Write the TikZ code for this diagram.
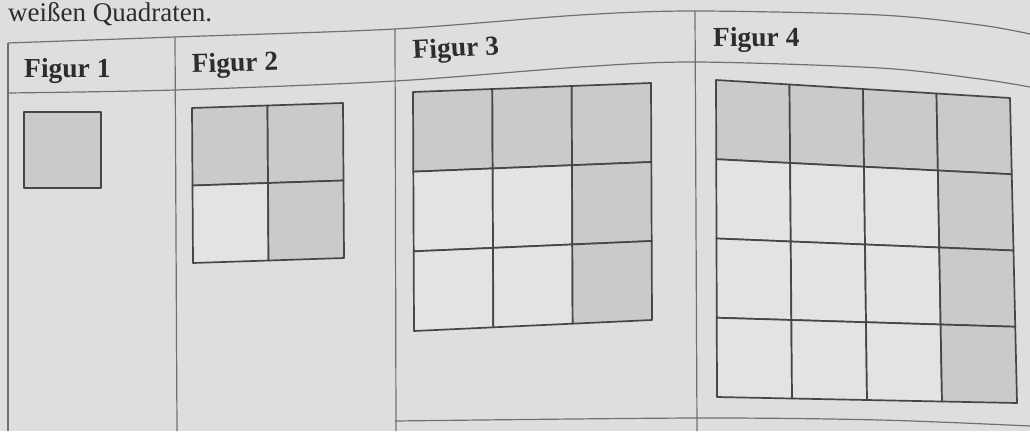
\documentclass[tikz,border=0pt]{standalone}
\usepackage{fontspec}
\setmainfont{Liberation Serif}
\usetikzlibrary{calc}

\definecolor{paper}{RGB}{222,222,222}
\definecolor{cellwhite}{RGB}{227,227,227}
\definecolor{cellgrey}{RGB}{202,202,202}
\definecolor{gridline}{RGB}{70,70,70}
\definecolor{tableline}{RGB}{112,112,112}
\definecolor{printtext}{RGB}{45,45,45}

% squares of one figure between the corners #1tl, #1tr, #1bl, #1br
% #2 squares per side, top row and right column grey
\newcommand{\quadgrid}[2]{%
  \foreach \i in {1,...,#2}{
    \foreach \j in {1,...,#2}{
      \pgfmathsetmacro{\ua}{(\i-1)/#2}
      \pgfmathsetmacro{\ub}{\i/#2}
      \pgfmathsetmacro{\va}{(\j-1)/#2}
      \pgfmathsetmacro{\vb}{\j/#2}
      \pgfmathtruncatemacro{\isgrey}{or(\j==1,\i==#2)}
      \ifnum\isgrey=1 \def\cellcol{cellgrey}\else\def\cellcol{cellwhite}\fi
      \filldraw[cellbox, fill=\cellcol]
        ($($(#1tl)!\ua!(#1tr)$)!\va!($(#1bl)!\ua!(#1br)$)$) --
        ($($(#1tl)!\ub!(#1tr)$)!\va!($(#1bl)!\ub!(#1br)$)$) --
        ($($(#1tl)!\ub!(#1tr)$)!\vb!($(#1bl)!\ub!(#1br)$)$) --
        ($($(#1tl)!\ua!(#1tr)$)!\vb!($(#1bl)!\ua!(#1br)$)$) -- cycle;
    }
  }
}

\begin{document}
\begin{tikzpicture}[x=1pt, y=-1pt,
  cellbox/.style={draw=gridline, line width=1.7pt, line join=round},
  rule/.style={draw=tableline, line width=1.2pt},
  figlabel/.style={anchor=base west, inner sep=0pt, text=printtext,
    font=\bfseries\fontsize{27.5}{30}\selectfont},
  toptext/.style={anchor=base west, inner sep=0pt, text=printtext,
    font=\fontsize{27}{30}\selectfont}]
  \useasboundingbox (0,0) rectangle (1030,431);
  \fill[paper] (0,0) rectangle (1030,431);
  % text of the page above the table
  \node[toptext] (intro) at (8,21) {weißen Quadraten.};
  % table rules
  \draw[rule] plot[smooth] coordinates {(8,43) (175,37) (395,29) (580,15) (695,11) (880,15) (980,25) (1030,34)};
  \draw[rule] plot[smooth] coordinates {(8,93) (175,90) (395,81) (580,67) (695,62) (880,68) (980,79) (1030,87)};
  \draw[rule] plot[smooth] coordinates {(395,421) (697,418) (880,420) (1030,426)};
  \draw[rule] (8,43) -- (8,431);
  \draw[rule] (175,37) -- (177,431);
  \draw[rule] (395,29) -- (396,431);
  \draw[rule] (695,11) -- (697,431);
  % headings
  \node[figlabel] (lblone) at (24,77) {Figur 1};
  \node[figlabel, rotate=1.8] (lbltwo) at (192,73) {Figur 2};
  \node[figlabel, rotate=3] (lblthree) at (413,59) {Figur 3};
  \node[figlabel, rotate=0.5] (lblfour) at (713,47) {Figur 4};
  % corners of the figures
  \coordinate (fatl) at (24,112);  \coordinate (fatr) at (101,112);
  \coordinate (fabl) at (24,188);  \coordinate (fabr) at (101,188);
  \coordinate (fbtl) at (192,108); \coordinate (fbtr) at (343,103);
  \coordinate (fbbl) at (193,263); \coordinate (fbbr) at (344,258);
  \coordinate (fctl) at (413,92);  \coordinate (fctr) at (651,83);
  \coordinate (fcbl) at (414,331); \coordinate (fcbr) at (652,320);
  \coordinate (fdtl) at (716,80);  \coordinate (fdtr) at (1010,98);
  \coordinate (fdbl) at (717,397); \coordinate (fdbr) at (1017,403);
  % squares
  \quadgrid{fa}{1}
  \quadgrid{fb}{2}
  \quadgrid{fc}{3}
  \quadgrid{fd}{4}
\end{tikzpicture}
\end{document}
